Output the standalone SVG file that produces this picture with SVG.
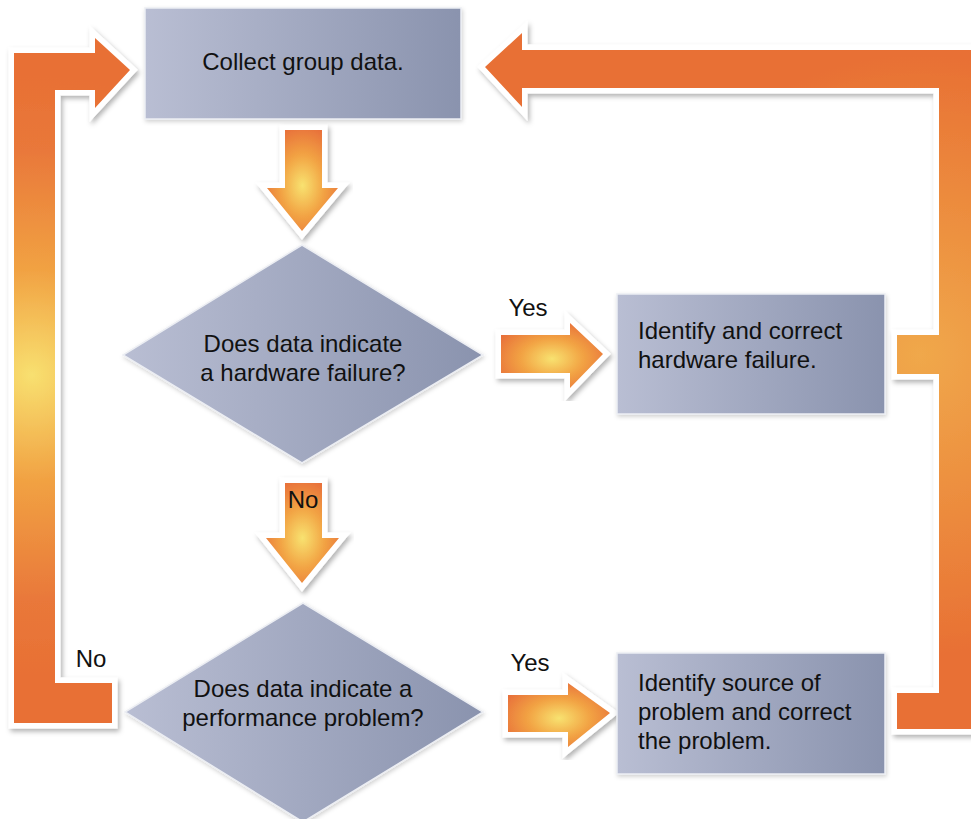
<svg xmlns="http://www.w3.org/2000/svg" width="971" height="819" viewBox="0 0 971 819">
  <defs>
    <!-- grey-blue fill for process boxes and decision diamonds -->
    <linearGradient id="nodeFill" x1="0" y1="0" x2="1" y2="0">
      <stop offset="0" stop-color="#b9bed3"/>
      <stop offset="1" stop-color="#8a93ae"/>
    </linearGradient>
    <!-- glowing fill for the short flow arrows -->
    <radialGradient id="glow" cx="0.5" cy="0.55" r="0.6">
      <stop offset="0" stop-color="#f8e270"/>
      <stop offset="0.5" stop-color="#f2a444"/>
      <stop offset="1" stop-color="#e8703a"/>
    </radialGradient>
    <!-- loop-back arrows: lighter spots on their long runs -->
    <radialGradient id="leftLoop" gradientUnits="userSpaceOnUse" cx="32" cy="375" r="300">
      <stop offset="0" stop-color="#f8e070"/>
      <stop offset="0.35" stop-color="#f1a243"/>
      <stop offset="0.75" stop-color="#e9783a"/>
      <stop offset="1" stop-color="#e87034"/>
    </radialGradient>
    <radialGradient id="rightLoop" gradientUnits="userSpaceOnUse" cx="920" cy="355" r="300">
      <stop offset="0" stop-color="#f0a84b"/>
      <stop offset="0.55" stop-color="#ec8a3d"/>
      <stop offset="1" stop-color="#e87034"/>
    </radialGradient>
    <filter id="shadow" x="-20%" y="-20%" width="140%" height="140%">
      <feDropShadow dx="2" dy="3" stdDeviation="2.5" flood-color="#000" flood-opacity="0.3"/>
    </filter>
    <filter id="softShadow" x="-10%" y="-10%" width="120%" height="120%">
      <feDropShadow dx="1" dy="2" stdDeviation="2" flood-color="#000" flood-opacity="0.18"/>
    </filter>
  </defs>
  <style>
    .node { fill: url(#nodeFill); stroke: #eceef3; stroke-width: 1.5; filter: url(#softShadow); }
    .arrow { fill: url(#glow); stroke: #ffffff; stroke-width: 11; stroke-linejoin: miter; paint-order: stroke; filter: url(#shadow); }
    .loop { stroke: #ffffff; stroke-width: 11; stroke-linejoin: miter; paint-order: stroke; filter: url(#shadow); }
    text { font-family: "Liberation Sans", Arial, sans-serif; font-size: 24px; fill: #111; }
    .c { text-anchor: middle; }
  </style>

  <rect width="971" height="819" fill="#ffffff"/>

  <!-- connectors -->
  <g id="connectors">
    <!-- "No" loop from the performance decision back to data collection -->
    <path class="loop" fill="url(#leftLoop)" d="M14,53 H95 V38 L130,70 L95,108 V90 H55 V683 H112 V723 H14 Z"/>
    <!-- both fixes feed back into data collection -->
    <path class="loop" fill="url(#rightLoop)" d="M485,67 L522,33 V50 H985 V729 H897 V693 H939 V374 H897 V335 H939 V88 H522 V107 Z"/>
    <!-- collect -> hardware decision -->
    <path class="arrow" d="M285,130 H322 V188 H338 L302,231 L267,188 H285 Z"/>
    <!-- hardware decision "No" -> performance decision -->
    <path class="arrow" d="M285,483 H322 V538 H339 L302,583 L266,538 H285 Z"/>
    <!-- hardware decision "Yes" -> fix hardware -->
    <path class="arrow" d="M501,335 H570 V323 L603,354 L570,388 V373 H501 Z"/>
    <!-- performance decision "Yes" -> fix source -->
    <path class="arrow" d="M508,695 H568 V683 L610,713 L568,747 V732 H508 Z"/>
    <text x="528" y="316" class="c">Yes</text>
    <text x="530" y="671" class="c">Yes</text>
    <text x="303" y="508" class="c">No</text>
    <text x="91" y="667" class="c">No</text>
  </g>

  <g id="collect">
    <rect class="node" x="145" y="8" width="316" height="111"/>
    <text x="303" y="70" class="c">Collect group data.</text>
  </g>

  <g id="hardwareDecision">
    <polygon class="node" points="302,245 483,355 302,463 123,355"/>
    <text x="303" y="352" class="c">Does data indicate</text>
    <text x="303" y="381" class="c">a hardware failure?</text>
  </g>

  <g id="fixHardware">
    <rect class="node" x="617" y="294" width="268" height="120"/>
    <text x="638" y="339">Identify and correct</text>
    <text x="638" y="368">hardware failure.</text>
  </g>

  <g id="performanceDecision">
    <polygon class="node" points="303,603 483,712 303,822 125,712"/>
    <text x="303" y="697" class="c">Does data indicate a</text>
    <text x="303" y="726" class="c">performance problem?</text>
  </g>

  <g id="fixSource">
    <rect class="node" x="617" y="653" width="268" height="121"/>
    <text x="638" y="691">Identify source of</text>
    <text x="638" y="720">problem and correct</text>
    <text x="638" y="749">the problem.</text>
  </g>
</svg>
